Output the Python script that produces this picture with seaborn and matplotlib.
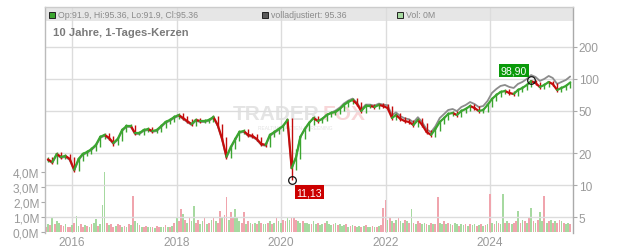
import numpy as np
import pandas as pd
import matplotlib
matplotlib.use("Agg")
import matplotlib.pyplot as plt
from matplotlib.patches import Rectangle
from matplotlib.ticker import FixedLocator, FuncFormatter, NullLocator
import seaborn as sns

# ---------------- data ----------------
price_start = "2015-07-01"          # monthly candles, mid-month
close = [17.5, 16.5, 19.7, 18.5, 18.9, 17.7, 14.0, 17.7, 19.7, 20.6, 21.9, 24.0,
         28.5, 29.8, 27.9, 25.0, 27.3, 33.1, 36.1, 36.1, 31.0, 31.0, 33.1, 33.8,
         32.4, 33.1, 36.1, 39.4, 41.2, 43.9, 45.8, 42.9, 40.2, 37.7, 41.2, 40.2,
         40.2, 41.2, 43.9, 36.9, 27.3, 18.6, 23.0, 27.3, 31.7, 32.4, 29.8, 29.1,
         27.3, 24.5, 24.0, 29.8, 31.7, 33.8, 36.1, 41.2, 14.5, 18.4, 28.5, 33.8,
         38.6, 42.9, 40.2, 42.1, 45.8, 47.9, 48.9, 52.2, 57.0, 60.8, 63.5, 58.2,
         50.0, 55.7, 55.7, 54.5, 57.0, 55.7, 53.4, 43.0, 45.8, 42.1, 40.2, 39.4,
         36.9, 41.2, 36.9, 31.7, 29.8, 33.8, 39.4, 43.0, 46.9, 47.9, 45.8, 50.0,
         52.2, 55.7, 53.4, 50.0, 51.1, 57.0, 64.8, 70.7, 75.4, 77.1, 73.9, 72.2,
         78.8, 82.3, 87.8, 95.5, 91.7, 84.1, 87.8, 93.7, 89.7, 78.8, 82.3, 85.9, 92.5]
high = [18.4, 18.3, 20.6, 20.5, 19.8, 19.7, 18.4, 18.5, 20.6, 21.6, 22.9, 25.1,
        29.8, 31.2, 31.0, 29.0, 28.6, 34.6, 37.8, 37.8, 37.2, 32.5, 34.6, 35.3,
        35.2, 34.6, 37.7, 41.2, 43.1, 45.9, 47.9, 47.5, 44.5, 41.8, 43.1, 42.9,
        42.0, 43.1, 45.9, 45.3, 37.9, 28.4, 24.1, 28.5, 33.1, 33.9, 33.6, 31.1,
        30.3, 28.4, 25.6, 31.1, 33.1, 35.3, 37.7, 43.0, 42.5, 22.0, 29.8, 35.3,
        40.3, 44.8, 44.5, 43.9, 47.8, 50.0, 51.0, 54.5, 59.5, 63.5, 66.3, 65.8,
        60.3, 58.1, 58.1, 57.7, 59.5, 59.0, 57.7, 55.3, 47.8, 47.5, 43.9, 41.9,
        41.0, 43.0, 42.7, 38.2, 33.0, 35.3, 41.1, 44.9, 48.9, 50.0, 49.6, 52.2,
        54.5, 58.1, 57.7, 55.3, 53.3, 59.5, 67.6, 73.8, 78.7, 80.5, 79.9, 76.6,
        82.2, 85.9, 91.6, 98.9, 97.8, 94.5, 91.6, 96.5, 96.0, 92.0, 85.9, 89.6, 95.36]
low = [16.6, 15.7, 15.8, 17.7, 17.6, 16.9, 13.2, 13.5, 17.0, 18.9, 19.7, 21.0,
       23.1, 27.3, 26.7, 23.6, 24.0, 26.3, 31.8, 34.4, 29.6, 29.6, 29.8, 31.9,
       31.0, 31.1, 31.8, 34.7, 37.8, 39.6, 42.2, 41.0, 38.5, 36.1, 36.3, 38.5,
       38.5, 38.6, 39.6, 35.3, 26.0, 17.6, 17.9, 22.1, 26.3, 30.4, 28.5, 27.9,
       26.1, 23.4, 22.9, 23.1, 28.6, 30.4, 32.5, 34.8, 11.13, 13.8, 17.6, 27.3,
       32.4, 37.0, 38.5, 38.6, 40.4, 44.0, 46.0, 46.9, 50.1, 54.7, 58.4, 55.9,
       48.0, 48.0, 53.4, 52.3, 52.3, 53.5, 51.3, 41.3, 41.3, 40.4, 38.6, 37.8,
       35.4, 35.4, 35.4, 30.4, 28.6, 28.6, 32.4, 37.8, 41.3, 45.0, 44.0, 44.0,
       48.0, 50.1, 51.3, 48.0, 48.0, 49.1, 54.7, 62.2, 67.9, 72.4, 70.9, 69.3,
       69.3, 75.6, 79.0, 84.3, 88.0, 80.7, 80.7, 84.3, 86.1, 75.6, 75.6, 79.0, 82.5]
adjusted = [17.2, 16.2, 19.3, 18.1, 18.5, 17.3, 13.7, 17.3, 19.3, 20.2, 21.5, 23.5,
            27.9, 29.2, 27.3, 24.5, 26.8, 32.4, 35.4, 35.4, 30.4, 30.4, 32.4, 33.1,
            31.8, 32.4, 35.4, 38.6, 40.4, 43.0, 44.9, 42.0, 39.4, 36.9, 40.4, 39.4,
            39.4, 40.4, 43.0, 36.2, 26.8, 18.2, 22.5, 26.8, 31.1, 31.8, 29.2, 28.5,
            26.8, 24.0, 23.5, 29.2, 31.1, 33.1, 36.1, 41.2, 14.5, 18.4, 28.5, 33.8,
            38.6, 42.9, 40.2, 42.1, 45.8, 47.9, 50.4, 53.8, 58.7, 62.6, 65.4, 59.9,
            51.5, 57.4, 57.4, 56.1, 58.7, 57.4, 56.6, 45.6, 48.5, 44.6, 42.6, 41.8,
            39.1, 43.7, 39.1, 33.6, 31.6, 35.8, 42.9, 46.9, 51.1, 52.2, 49.9, 54.5,
            56.9, 60.7, 58.2, 54.5, 55.7, 62.1, 73.9, 80.6, 86.0, 87.9, 84.2, 82.3,
            89.8, 93.8, 100.1, 108.9, 104.5, 95.9, 100.1, 106.8, 102.3, 89.8, 93.8, 97.9, 105.5]

vol_start = "2015-07-01"            # semi-monthly volume, millions
volume_m = [0.35, 0.5, 0.45, 1.0, 0.55, 0.7, 0.6, 0.45, 0.4, 0.5, 0.35, 0.3, 0.45, 0.6, 1.05, 0.4, 0.5, 0.35, 0.45, 0.4, 0.3, 0.5, 0.6, 0.85,
            0.4, 0.5, 1.8, 4.0, 0.6, 0.45, 0.5, 0.35, 0.4, 0.5, 0.45, 0.3, 0.4, 0.35, 0.5, 0.45, 2.4, 0.7, 0.6, 0.45, 0.35, 0.3, 0.4, 0.35,
            0.3, 0.35, 0.25, 0.4, 0.3, 0.35, 0.3, 0.45, 0.35, 0.3, 0.4, 0.6, 0.9, 0.7, 1.5, 1.2, 0.8, 0.6, 0.9, 0.7, 1.7, 0.6, 0.8, 0.5,
            0.7, 0.9, 0.5, 0.6, 0.8, 1.0, 0.7, 0.6, 1.4, 0.9, 1.1, 2.3, 0.8, 1.3, 1.0, 1.5, 0.9, 0.7, 0.6, 1.3, 0.5, 0.7, 0.6, 0.5,
            0.6, 0.5, 0.7, 0.6, 0.5, 0.55, 0.6, 0.7, 0.5, 0.6, 0.9, 0.7, 0.6, 0.8, 0.7, 0.9, 0.8, 1.0, 0.9, 0.8, 0.7, 0.6, 0.7, 0.6,
            0.6, 0.5, 0.55, 0.7, 0.5, 0.6, 0.45, 0.5, 0.6, 0.7, 0.5, 0.45, 0.5, 0.6, 0.45, 0.5, 0.4, 0.45, 0.5, 0.35, 0.4, 0.45, 0.4, 0.35,
            0.4, 0.35, 0.4, 0.45, 0.3, 0.35, 0.4, 0.3, 0.35, 0.4, 0.45, 1.6, 2.1, 0.8, 0.9, 0.7, 0.6, 0.8, 0.9, 0.7, 0.6, 0.8, 0.7, 0.6,
            1.5, 0.6, 0.5, 0.7, 0.6, 0.5, 0.6, 0.5, 0.45, 0.6, 0.5, 0.55, 2.3, 0.6, 0.5, 0.7, 0.55, 0.6, 0.5, 0.45, 0.6, 0.5, 0.4, 0.5,
            0.45, 0.5, 0.4, 0.55, 0.45, 0.5, 0.4, 0.45, 0.5, 0.4, 0.45, 0.5, 2.5, 0.6, 0.5, 0.7, 0.6, 0.5, 2.5, 0.6, 0.7, 0.6, 0.5, 0.6,
            0.7, 1.4, 0.6, 0.8, 0.7, 0.6, 0.9, 1.6, 0.7, 0.6, 0.8, 1.3, 0.7, 2.4, 0.6, 0.7, 0.8, 0.6, 0.7, 0.6, 0.8, 0.7, 0.6, 0.5,
            0.6, 0.5]
vol_dir = "".join([
    "dudu", "duud", "dudd", "uduu", "ddud", "uduu",
    "duuu", "dudd", "uddu", "dudu", "duud", "uddu",
    "udud", "duud", "udud", "uddu", "dudu", "uddu",
    "udud", "udud", "dudd", "uddu", "uudd", "udud",
    "udud", "uudu", "dudu", "uddu", "uddd", "uudu",
    "uudu", "uduu", "duuu", "dudu", "uudu", "dudu",
    "udud", "uudu", "dudd", "dudu", "dudu", "udud",
    "udud", "duud", "udud", "duud", "udud", "uudu",
    "udud", "uudu", "dudu", "dudu", "duud", "udud",
    "dudu", "dudu", "dudu", "udud", "udud", "dudu",
    "ud"])

header_ohlc = "Op:91.9, Hi:95.36, Lo:91.9, Cl:95.36"
header_adj = "volladjustiert: 95.36"
header_vol = "Vol: 0M"
title = "10 Jahre, 1-Tages-Kerzen"
price_ticks = [5, 10, 20, 50, 100, 200]
vol_ticks = [0, 1, 2, 3, 4]
year_ticks = [2016, 2018, 2020, 2022, 2024]

# ---------------- styling ----------------
sns.set_style("white")
plt.rcParams['font.family'] = ['Liberation Sans', 'DejaVu Sans']

GREEN = "#3ba530"
RED = "#c40c0c"
VGREEN = "#a6d9a0"
VRED = "#f0a4ad"
GRID = "#dcdcdc"
TXT = "#9a9a9a"

W, H = 632, 253
L, R, T, B = 45, 573, 8, 234
fig = plt.figure(figsize=(W / 100, H / 100), dpi=100)
ax_v = fig.add_axes([L / W, 1 - B / H, (R - L) / W, (B - T) / H])
ax_p = ax_v.twinx()

def fx(x):
    return x / W

def fy(y):
    return 1 - y / H

# ---------------- frames ----------------
price_dates = pd.date_range(price_start, periods=len(close), freq="MS") + pd.Timedelta(days=14)
vol_dates = pd.date_range(vol_start, periods=len(volume_m), freq="SMS")

direction = ["up"] + ["up" if close[i] >= close[i - 1] else "down" for i in range(1, len(close))]
seg_rows = []
for i in range(1, len(close)):
    seg_rows.append((price_dates[i - 1], close[i - 1], i, direction[i]))
    seg_rows.append((price_dates[i], close[i], i, direction[i]))
seg = pd.DataFrame(seg_rows, columns=["date", "price", "seg", "dir"])
adj_df = pd.DataFrame({"date": price_dates, "adj": adjusted})

# ---------------- volume ----------------
xmin, xmax = pd.Timestamp("2015-06-25"), pd.Timestamp("2025-08-04")
ax_v.add_patch(Rectangle((0, (B - 22) / (B - T)), 1, 1, transform=ax_v.transAxes,
                         facecolor="#e6e6e6", edgecolor="none", zorder=0.3))
for yr in year_ticks:
    ax_v.axvline(pd.Timestamp(yr, 1, 1), color=GRID, lw=1.0, zorder=0.5)
ax_v.bar(vol_dates, volume_m, width=12,
         color=[VGREEN if c == "u" else VRED for c in vol_dir], linewidth=0, zorder=2)
ax_v.set_xlim(xmin, xmax)
ax_v.set_ylim(-0.067, 15.0)

# watermark
ax_v.text(fx(233), fy(115), "TRADER", transform=fig.transFigure, fontsize=15, weight="bold",
          color="#e4e4e4", va="center", ha="left", zorder=0.4)
ax_v.text(fx(323), fy(115), "FOX", transform=fig.transFigure, fontsize=15, weight="bold",
          color="#f8d6d8", va="center", ha="left", zorder=0.4)
ax_v.text(fx(258), fy(129), "REALTIME  AKTIEN-SCREENING", transform=fig.transFigure, fontsize=3.5,
          color="#e2e2e2", va="center", ha="left", zorder=0.4)

# ---------------- price ----------------
ax_p.set_yscale("log")
for p in price_ticks:
    ax_p.axhline(p, color=GRID, lw=1.0, zorder=0)
sns.lineplot(data=adj_df, x="date", y="adj", color="#8c8c8c", lw=1.3, ax=ax_p, zorder=2)
ax_p.vlines(price_dates, low, high, colors=[GREEN if d == "up" else RED for d in direction],
            lw=1.0, zorder=3)
sns.lineplot(data=seg, x="date", y="price", units="seg", hue="dir", estimator=None,
             palette={"up": GREEN, "down": RED}, lw=1.6, legend=False, ax=ax_p,
             sort=False, zorder=3, solid_capstyle="round")
ax_p.set_ylim(3.557, 475.7)
ax_p.set_xlim(xmin, xmax)

hi_i = int(np.argmax(high))
lo_i = int(np.argmin(low))
for idx, val, dx, dy, ha, fc in [(hi_i, high[hi_i], -4, 9, "right", "#0a9a0a"),
                                 (lo_i, low[lo_i], 5, -12, "left", "#cc0000")]:
    ax_p.plot([price_dates[idx]], [val], marker="o", ms=5.5, mfc="none",
              mec="#111111", mew=0.9, zorder=5)
    ax_p.annotate(f"{val:.2f}".replace(".", ","), xy=(price_dates[idx], val),
                  xytext=(dx, dy), textcoords="offset pixels", ha=ha, va="center",
                  color="white", fontsize=7.6, zorder=6,
                  bbox=dict(boxstyle="square,pad=0.18", fc=fc, ec="none"))

# ---------------- axes cosmetics ----------------
for s in ax_v.spines.values():
    s.set_visible(False)
ax_p.spines["bottom"].set_visible(False)
ax_p.spines["top"].set_color("#cccccc")
ax_p.spines["left"].set_color("#bbbbbb")
ax_p.spines["right"].set_color("#aaaaaa")
for s in ("top", "left", "right"):
    ax_p.spines[s].set_linewidth(1.0)

ax_v.yaxis.set_major_locator(FixedLocator(vol_ticks))
ax_v.yaxis.set_major_formatter(FuncFormatter(lambda v, _: f"{v:.1f}M".replace(".", ",")))
ax_v.tick_params(axis="y", left=True, length=3, width=0.8, color="#aaaaaa",
                 labelcolor=TXT, labelsize=8.6, pad=1)
ax_v.set_xticks([pd.Timestamp(y, 1, 1) for y in year_ticks])
ax_v.set_xticklabels([str(y) for y in year_ticks])
ax_v.tick_params(axis="x", bottom=False, length=0, labelcolor=TXT, labelsize=8.6, pad=2.5)
ax_v.set_xlabel("")
ax_v.set_ylabel("")

ax_p.yaxis.set_major_locator(FixedLocator(price_ticks))
ax_p.yaxis.set_minor_locator(NullLocator())
ax_p.yaxis.set_major_formatter(FuncFormatter(lambda v, _: f"{v:g}"))
ax_p.tick_params(axis="y", right=True, length=3, width=0.8, color="#aaaaaa",
                 labelcolor=TXT, labelsize=8.6, pad=1)
ax_p.set_ylabel("")
ax_p.set_xlabel("")

# ---------------- header ----------------
for x0, fc, txt in [(49, GREEN, header_ohlc), (262, "#5a5a5a", header_adj), (397, VGREEN, header_vol)]:
    fig.add_artist(Rectangle((fx(x0), fy(18.5)), 6 / W, 6 / H, transform=fig.transFigure,
                             facecolor=fc, edgecolor="#222222", lw=0.7, zorder=10))
    fig.text(fx(x0 + 9), fy(15.3), txt, fontsize=6.3, color="#8a8a8a", va="center", ha="left")
fig.text(fx(53), fy(33), title, fontsize=8.1, weight="bold", color="#7a7a7a", va="center", ha="left")

fig.savefig("out.png", dpi=100)
